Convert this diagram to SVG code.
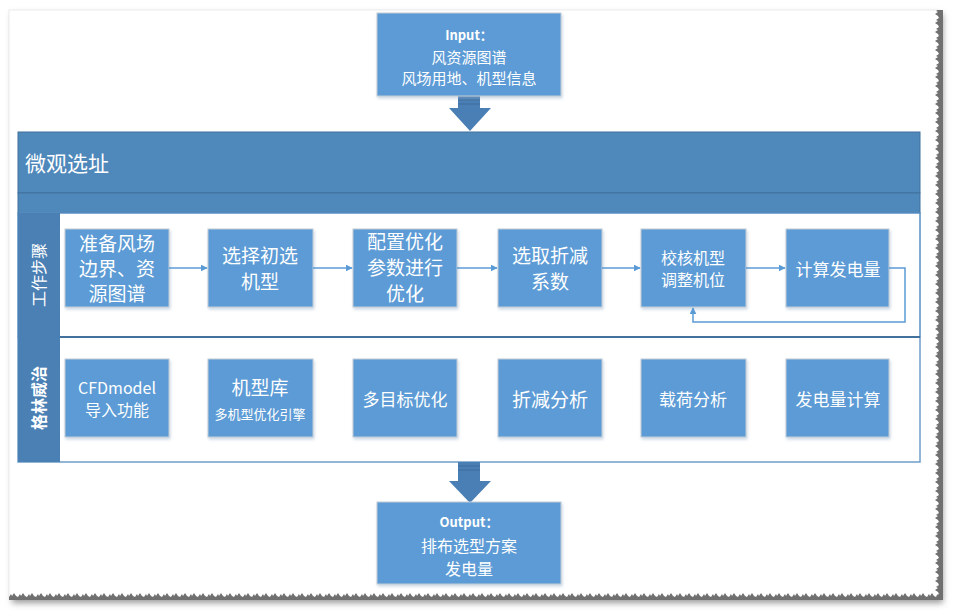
<svg xmlns="http://www.w3.org/2000/svg" width="957" height="616" viewBox="0 0 957 616">
<defs>
<filter id="blur" x="-5%" y="-5%" width="110%" height="110%"><feGaussianBlur stdDeviation="3"/></filter>
<filter id="bs" x="-10%" y="-10%" width="130%" height="130%"><feDropShadow dx="1" dy="2" stdDeviation="1.5" flood-color="#8aa6c4" flood-opacity="0.45"/></filter>
<pattern id="tearB" patternUnits="userSpaceOnUse" x="0" y="592" width="9" height="8"><polygon points="0,8 0,5 2,2 3,4 5,1 7,4 9,5 9,8" fill="#707070"/></pattern>
<pattern id="tearR" patternUnits="userSpaceOnUse" x="935" y="0" width="8" height="9"><polygon points="8,0 4,0 1,2 3,3 0,5 3,7 4,9 8,9" fill="#707070"/></pattern>
<marker id="ah" viewBox="0 0 10 10" refX="9" refY="5" markerWidth="7" markerHeight="7" orient="auto" markerUnits="userSpaceOnUse"><path d="M0,0 L10,5 L0,10 z" fill="#5b9bd5"/></marker>
</defs>
<style>
.box{fill:#5b9bd5;stroke:#c3ccd6;stroke-width:1;filter:url(#bs)}
.t{font-family:"Noto Sans CJK SC","Noto Sans",sans-serif;fill:#ffffff;text-anchor:middle;dominant-baseline:central}
.c{fill:none;stroke:#5b9bd5;stroke-width:1.5;marker-end:url(#ah)}
.big{fill:#4a7fb5}
.stripe{stroke:#3d6c9c;stroke-width:1}
</style>
<rect width="957" height="616" fill="#ffffff"/>
<!-- paper -->
<rect x="12" y="14" width="931" height="589" fill="#9a9a9a" filter="url(#blur)"/>
<rect x="9" y="10" width="930" height="588" fill="#ffffff" stroke="#ececec" stroke-width="1"/>
<rect x="9" y="592" width="934" height="8" fill="url(#tearB)"/>
<rect x="935" y="10" width="8" height="590" fill="url(#tearR)"/>

<!-- container -->
<g id="container">
<rect x="18" y="132" width="902" height="61" fill="#4f88bb" stroke="#41719c"/>
<rect x="18" y="193" width="902" height="20" fill="#4f88bb" stroke="#41719c"/>
<text class="t" x="25" y="162" style="text-anchor:start;font-size:21px">微观选址</text>
<rect x="18" y="213" width="902" height="124" fill="#ffffff" stroke="#5a8ec2" stroke-width="1.5"/>
<rect x="18" y="337" width="902" height="125" fill="#ffffff" stroke="#6f9cc9" stroke-width="1.5"/>
<line x1="18" y1="337" x2="920" y2="337" stroke="#41719c" stroke-width="2"/>
<rect x="18" y="213" width="42" height="124" fill="#4a80b4"/>
<rect x="18" y="337" width="42" height="125" fill="#4a80b4"/>
<text class="t" transform="translate(38,275) rotate(-90)" style="font-size:16px">工作步骤</text>
<text class="t" transform="translate(38,398) rotate(-90)" style="font-size:16px;font-weight:bold">格林威治</text>
</g>

<!-- big arrows -->
<g id="arrows-big">
<rect class="big" x="458" y="96" width="22" height="13"/>
<line class="stripe" x1="458" y1="100" x2="480" y2="100"/>
<line class="stripe" x1="458" y1="104" x2="480" y2="104"/>
<polygon class="big" points="449,108 491,108 470,131"/>
<rect class="big" x="458" y="462" width="22" height="20"/>
<line class="stripe" x1="458" y1="466" x2="480" y2="466"/>
<line class="stripe" x1="458" y1="470" x2="480" y2="470"/>
<polygon class="big" points="449,481 491,481 470,503"/>
</g>

<!-- input / output -->
<g id="input">
<rect class="box" x="377" y="13" width="184" height="83"/>
<text class="t" x="469" y="34" style="font-size:13px;font-weight:bold">Input：</text>
<text class="t" x="469" y="56" style="font-size:15px">风资源图谱</text>
<text class="t" x="469" y="77" style="font-size:15px">风场用地、机型信息</text>
</g>
<g id="output">
<rect class="box" x="377" y="502" width="184" height="82"/>
<text class="t" x="469" y="521" style="font-size:13px;font-weight:bold">Output：</text>
<text class="t" x="469" y="545" style="font-size:16px">排布选型方案</text>
<text class="t" x="469" y="568" style="font-size:16px">发电量</text>
</g>

<!-- row 1 -->
<g id="s1"><rect class="box" x="65" y="229" width="104" height="78"/>
<text class="t" x="117" y="242" style="font-size:19px">准备风场</text>
<text class="t" x="117" y="267" style="font-size:19px">边界、资</text>
<text class="t" x="117" y="292" style="font-size:19px">源图谱</text></g>
<g id="s2"><rect class="box" x="208" y="229" width="105" height="78"/>
<text class="t" x="260" y="254" style="font-size:19px">选择初选</text>
<text class="t" x="260" y="280" style="font-size:19px">机型</text></g>
<g id="s3"><rect class="box" x="353" y="229" width="104" height="78"/>
<text class="t" x="405" y="240" style="font-size:19px">配置优化</text>
<text class="t" x="405" y="266" style="font-size:19px">参数进行</text>
<text class="t" x="405" y="292" style="font-size:19px">优化</text></g>
<g id="s4"><rect class="box" x="498" y="229" width="104" height="78"/>
<text class="t" x="550" y="254" style="font-size:19px">选取折减</text>
<text class="t" x="550" y="280" style="font-size:19px">系数</text></g>
<g id="s5"><rect class="box" x="641" y="229" width="105" height="78"/>
<text class="t" x="693" y="257" style="font-size:16px">校核机型</text>
<text class="t" x="693" y="279" style="font-size:16px">调整机位</text></g>
<g id="s6"><rect class="box" x="786" y="229" width="103" height="78"/>
<text class="t" x="838" y="268" style="font-size:17px">计算发电量</text></g>

<!-- row 2 -->
<g id="g1"><rect class="box" x="65" y="359" width="104" height="78"/>
<text class="t" x="117" y="387" style="font-size:16px">CFDmodel</text>
<text class="t" x="117" y="409" style="font-size:16px">导入功能</text></g>
<g id="g2"><rect class="box" x="208" y="359" width="105" height="78"/>
<text class="t" x="260" y="386" style="font-size:19px">机型库</text>
<text class="t" x="260" y="413" style="font-size:13px">多机型优化引擎</text></g>
<g id="g3"><rect class="box" x="353" y="359" width="104" height="78"/>
<text class="t" x="405" y="398" style="font-size:17px">多目标优化</text></g>
<g id="g4"><rect class="box" x="498" y="359" width="104" height="78"/>
<text class="t" x="550" y="398" style="font-size:19px">折减分析</text></g>
<g id="g5"><rect class="box" x="641" y="359" width="105" height="78"/>
<text class="t" x="693" y="398" style="font-size:17px">载荷分析</text></g>
<g id="g6"><rect class="box" x="786" y="359" width="103" height="78"/>
<text class="t" x="838" y="398" style="font-size:17px">发电量计算</text></g>

<!-- connectors -->
<g id="connectors">
<path class="c" d="M169,268 H207"/>
<path class="c" d="M313,268 H352"/>
<path class="c" d="M457,268 H497"/>
<path class="c" d="M602,268 H640"/>
<path class="c" d="M746,268 H785"/>
<path class="c" d="M889,268 H905 V322 H693 V308"/>
</g>
</svg>
